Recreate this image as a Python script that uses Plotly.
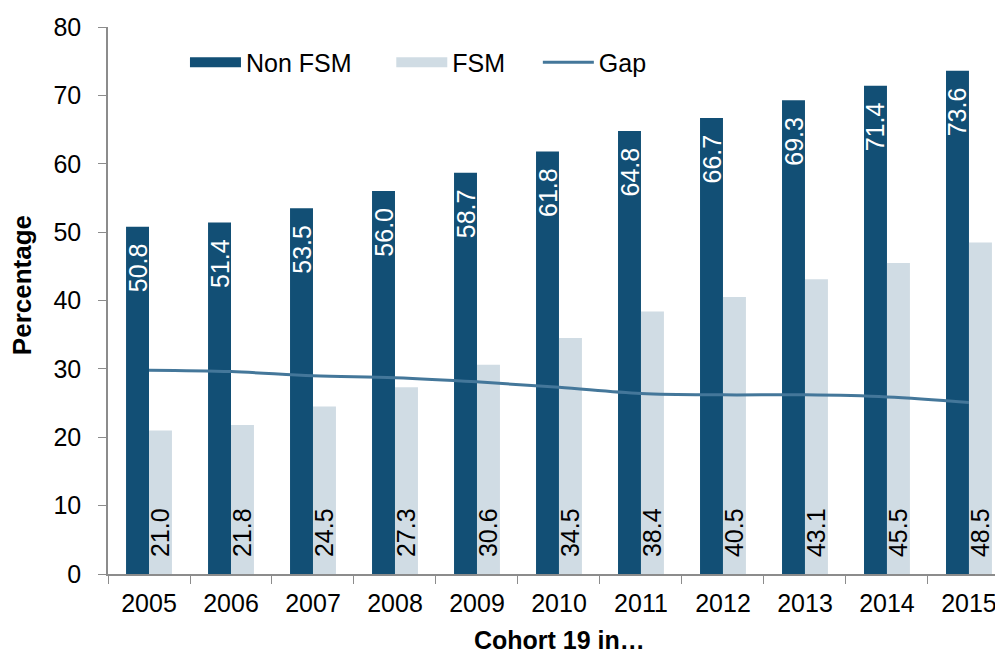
import plotly.graph_objects as go

years = ["2005", "2006", "2007", "2008", "2009", "2010", "2011", "2012", "2013", "2014", "2015"]
non_fsm = [50.8, 51.4, 53.5, 56.0, 58.7, 61.8, 64.8, 66.7, 69.3, 71.4, 73.6]
fsm = [21.0, 21.8, 24.5, 27.3, 30.6, 34.5, 38.4, 40.5, 43.1, 45.5, 48.5]
gap = [29.8, 29.6, 29.0, 28.7, 28.1, 27.3, 26.4, 26.2, 26.2, 25.9, 25.1]

FONT = "Liberation Sans, Arial, sans-serif"
C_NON = "#124f75"
C_FSM = "#d0dce4"
C_GAP = "#44779a"
NB = "\u00a0"

fig = go.Figure()
fig.add_trace(go.Bar(
    x=years, y=non_fsm, name="Non FSM", showlegend=False,
    marker=dict(color=C_NON, line=dict(width=0)),
    texttemplate="%{y:.1f}" + NB * 2, textposition="inside", insidetextanchor="end",
    textangle=-90, insidetextfont=dict(color="white", size=25, family=FONT),
))
fig.add_trace(go.Bar(
    x=years, y=fsm, name="FSM", showlegend=False,
    marker=dict(color=C_FSM, line=dict(width=0)),
    texttemplate=NB * 2 + "%{y:.1f}", textposition="inside", insidetextanchor="start",
    textangle=-90, insidetextfont=dict(color="black", size=25, family=FONT),
))
fig.add_trace(go.Scatter(
    x=years, y=gap, name="Gap", mode="lines", showlegend=False,
    line=dict(color=C_GAP, width=3, shape="spline"),
))
# legend entries (swatches only)
fig.add_trace(go.Scatter(x=[None], y=[None], name="Non FSM" + NB * 5, mode="lines",
                         line=dict(color=C_NON, width=11)))
fig.add_trace(go.Scatter(x=[None], y=[None], name="FSM" + NB * 4, mode="lines",
                         line=dict(color=C_FSM, width=11)))
fig.add_trace(go.Scatter(x=[None], y=[None], name="Gap", mode="lines",
                         line=dict(color=C_GAP, width=3)))

fig.update_layout(
    width=1003, height=655,
    margin=dict(l=100, r=8, t=19, b=89),
    paper_bgcolor="white", plot_bgcolor="white",
    font=dict(family=FONT, size=25, color="black"),
    barmode="group", bargap=0.44, bargroupgap=0,
    uniformtext=dict(minsize=25, mode="show"),
    showlegend=True,
    legend=dict(orientation="h", x=0.086, xanchor="left", y=0.935, yanchor="middle",
                font=dict(size=25), bgcolor="rgba(0,0,0,0)", traceorder="normal",
                itemwidth=51),
    annotations=[
        dict(text="<b>Percentage</b>", xref="paper", yref="paper", x=-0.0961, y=0.528,
             xanchor="center", yanchor="middle", textangle=-90, showarrow=False,
             font=dict(size=26)),
        dict(text="<b>Cohort 19 in…</b>", xref="paper", yref="paper", x=0.505, y=-0.1215,
             xanchor="center", yanchor="middle", showarrow=False, font=dict(size=25)),
    ],
)
fig.update_xaxes(
    range=[-0.5, 10.415],
    showline=True, linecolor="#8c8c8c", linewidth=1.5,
    ticks="outside", ticklen=8, tickcolor="#8c8c8c", tickson="boundaries",
    showgrid=False, tickfont=dict(size=25), ticklabelstandoff=6,
    automargin=False,
)
fig.update_yaxes(
    range=[0, 80], dtick=10, showline=True, linecolor="#8c8c8c", linewidth=1.5,
    ticks="outside", ticklen=8, tickcolor="#8c8c8c", showgrid=False, zeroline=False,
    tickfont=dict(size=25), ticklabelstandoff=12, automargin=False,
)

fig.write_html("out.html")
